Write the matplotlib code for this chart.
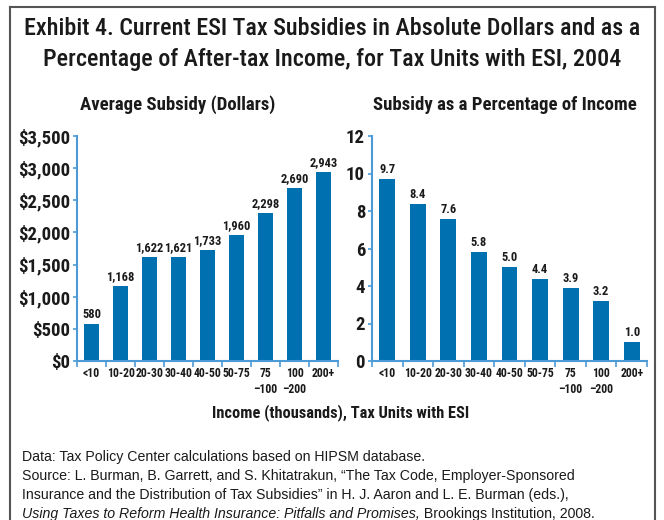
import matplotlib
matplotlib.use("Agg")
import matplotlib.pyplot as plt
from matplotlib import font_manager as fm
from matplotlib.lines import Line2D

categories = ["<10", "10-20", "20-30", "30-40", "40-50", "50-75", "75\n\u2013100", "100\n\u2013200", "200+"]
subsidy_dollars = [580, 1168, 1622, 1621, 1733, 1960, 2298, 2690, 2943]
subsidy_pct = [9.7, 8.4, 7.6, 5.8, 5.0, 4.4, 3.9, 3.2, 1.0]
dollar_ticks = [0, 500, 1000, 1500, 2000, 2500, 3000, 3500]
pct_ticks = [0, 2, 4, 6, 8, 10, 12]

TITLE = "Exhibit 4. Current ESI Tax Subsidies in Absolute Dollars and as a\nPercentage of After-tax Income, for Tax Units with ESI, 2004"
LEFT_TITLE = "Average Subsidy (Dollars)"
RIGHT_TITLE = "Subsidy as a Percentage of Income"
XLABEL = "Income (thousands), Tax Units with ESI"
NOTE_LINES = [
    "Data: Tax Policy Center calculations based on HIPSM database.",
    "Source: L. Burman, B. Garrett, and S. Khitatrakun, \u201cThe Tax Code, Employer-Sponsored",
    "Insurance and the Distribution of Tax Subsidies\u201d in H. J. Aaron and L. E. Burman (eds.),",
]
NOTE_ITALIC = "Using Taxes to Reform Health Insurance: Pitfalls and Promises,"
NOTE_TAIL = " Brookings Institution, 2008."

BAR = "#0070b0"
AXIS = "#4c9bd6"
INK = "#1a1a1a"

# look for a narrow face, the original uses a condensed gothic
names = {f.name for f in fm.fontManager.ttflist}
NARROW = "Liberation Sans"
for cand in ["Liberation Sans Narrow", "DejaVu Sans Condensed", "Roboto Condensed", "Open Sans Condensed"]:
    if cand in names:
        NARROW = cand
        break

fig = plt.figure(figsize=(6.64, 5.2), dpi=100)
W, H = 664, 520


def px_rect(x0, y0, x1, y1):
    return [x0 / W, 1 - y1 / H, (x1 - x0) / W, (y1 - y0) / H]


def style_axes(ax, ticks, fmt):
    for s in ["top", "right"]:
        ax.spines[s].set_visible(False)
    for s in ["left", "bottom"]:
        ax.spines[s].set_color(AXIS)
        ax.spines[s].set_linewidth(1.5)
    ax.set_xlim(-0.5, len(categories) - 0.5)
    ax.set_ylim(ticks[0], ticks[-1])
    ax.set_yticks(ticks)
    ax.set_yticklabels([fmt(t) for t in ticks], fontfamily=NARROW,
                       fontweight="bold", fontsize=13.5, color=INK)
    ax.set_xticks(range(len(categories)))
    ax.set_xticklabels(categories, fontfamily=NARROW, fontweight="bold",
                       fontsize=8.5, color=INK, linespacing=1.35)
    ax.set_xticks([i - 0.5 for i in range(len(categories) + 1)], minor=True)
    ax.tick_params(axis="x", which="major", length=0, pad=4)
    ax.tick_params(axis="x", which="minor", length=4, width=1.2, color=AXIS)
    ax.tick_params(axis="y", length=3, width=1.2, color=AXIS, pad=2)


ax1 = fig.add_axes(px_rect(77, 136, 338, 361))
ax1.bar(range(len(categories)), subsidy_dollars, width=0.52, color=BAR, zorder=2)
style_axes(ax1, dollar_ticks, lambda t: f"${t:,}")
for i, v in enumerate(subsidy_dollars):
    ax1.text(i, v + 45, f"{v:,}", ha="center", va="bottom", fontfamily=NARROW,
             fontweight="bold", fontsize=9, color=INK)

ax2 = fig.add_axes(px_rect(372, 136, 647, 361))
ax2.bar(range(len(categories)), subsidy_pct, width=0.52, color=BAR, zorder=2)
style_axes(ax2, pct_ticks, lambda t: f"{t}")
for i, v in enumerate(subsidy_pct):
    ax2.text(i, v + 0.15, f"{v:.1f}", ha="center", va="bottom", fontfamily=NARROW,
             fontweight="bold", fontsize=9, color=INK)

fig.text(178 / W, 1 - 105 / H, LEFT_TITLE, ha="center", va="center", fontfamily=NARROW,
         fontweight="bold", fontsize=13.5, color=INK)
fig.text(505 / W, 1 - 105 / H, RIGHT_TITLE, ha="center", va="center", fontfamily=NARROW,
         fontweight="bold", fontsize=13.5, color=INK)

fig.text(332 / W, 1 - 44 / H, TITLE, ha="center", va="center", fontfamily=NARROW,
         fontweight="medium", fontsize=17.4, color=INK, linespacing=1.4)
fig.text(341 / W, 1 - 413 / H, XLABEL, ha="center", va="center", fontfamily=NARROW,
         fontweight="bold", fontsize=11.8, color=INK)

y = 457
for line in NOTE_LINES:
    fig.text(22 / W, 1 - y / H, line, ha="left", va="center",
             fontfamily="Liberation Sans", fontsize=10.2, color=INK)
    y += 19
it = fig.text(22 / W, 1 - y / H, NOTE_ITALIC, ha="left", va="center",
              fontfamily="Liberation Sans", fontstyle="italic", fontsize=10.2, color=INK)
fig.canvas.draw()
bb = it.get_window_extent().transformed(fig.transFigure.inverted())
fig.text(bb.x1, 1 - y / H, NOTE_TAIL, ha="left", va="center",
         fontfamily="Liberation Sans", fontsize=10.2, color=INK)

# frame round the exhibit, open at the bottom
frame = dict(color="#555555", linewidth=1.5, transform=fig.transFigure)
fig.add_artist(Line2D([10 / W, 10 / W], [0, 1 - 7 / H], **frame))
fig.add_artist(Line2D([655 / W, 655 / W], [0, 1 - 7 / H], **frame))
fig.add_artist(Line2D([10 / W, 655 / W], [1 - 7 / H, 1 - 7 / H], **frame))

fig.savefig("out.png", dpi=100)
